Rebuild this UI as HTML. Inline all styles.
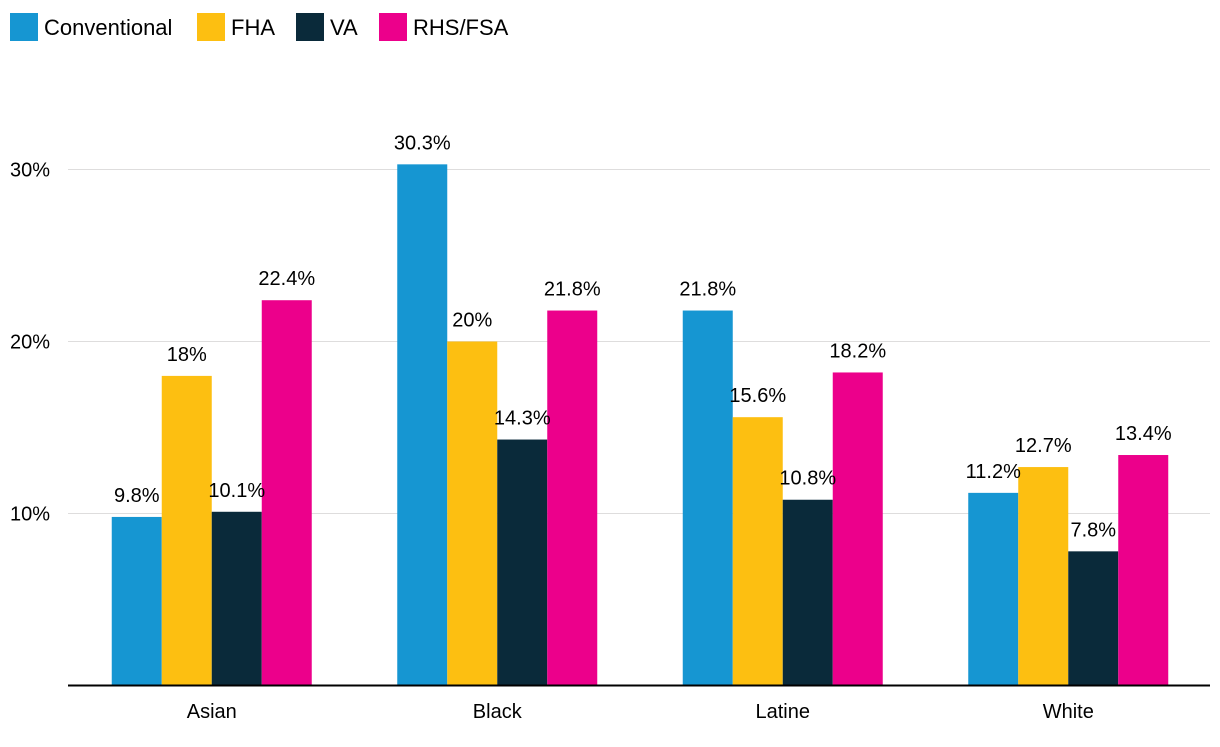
<!DOCTYPE html>
<html><head><meta charset="utf-8">
<style>
body{margin:0;background:#fff;font-family:"Liberation Sans",sans-serif;}
svg text{font-family:"Liberation Sans",sans-serif;}
</style></head>
<body>
<svg width="1220" height="742">
<g id="legend"></g>
<g id="grid"></g>
<g id="bars"></g>
<g id="labels"></g>
<g id="axes"></g>
</svg>
<script>
const categories = ["Asian","Black","Latine","White"];
const seriesNames = ["Conventional","FHA","VA","RHS/FSA"];
const seriesColors = ["#1696d2","#fdbf11","#0a2a3a","#ec008b"];
const conventional = [9.8,30.3,21.8,11.2];
const fha = [18,20,15.6,12.7];
const va = [10.1,14.3,10.8,7.8];
const rhs = [22.4,21.8,18.2,13.4];
const yTicks = [10,20,30];
const yTickLabels = ["10%","20%","30%"];
const series = [conventional,fha,va,rhs];
const ns="http://www.w3.org/2000/svg";
const x0=68,x1=1210,y0=685.5,pxPer=17.2;
const y=v=>y0-v*pxPer;
const groupW=(x1-x0)/categories.length, barW=50;
function mk(t,a,p){const e=document.createElementNS(ns,t);for(const k in a)e.setAttribute(k,a[k]);p.appendChild(e);return e;}
const grid=document.getElementById('grid'),axes=document.getElementById('axes'),bars=document.getElementById('bars'),labels=document.getElementById('labels'),legend=document.getElementById('legend');
yTicks.forEach((t,i)=>{
 const l=mk('line',{x1:x0,x2:x1,y1:y(t),y2:y(t),stroke:'#dedddd','stroke-width':1},grid);
 
 
 const tx=mk('text',{x:10,y:y(t)+7,'font-size':20,fill:'#000'},axes);tx.textContent=yTickLabels[i];
 
 
});
const base=mk('line',{x1:x0,x2:x1,y1:y0,y2:y0,stroke:'#000','stroke-width':2},axes);


categories.forEach((c,ci)=>{
 const cx=x0+groupW*(ci+0.5)+1;
 const tx=mk('text',{x:cx,y:718,'font-size':20,'text-anchor':'middle',fill:'#000'},axes);tx.textContent=c;
 
 
 series.forEach((s,si)=>{
  const bx=cx-2*barW+si*barW,v=s[ci];
  const r=mk('rect',{x:bx,y:y(v),width:barW,height:y0-y(v),fill:seriesColors[si]},bars);
  
  
  const lt=mk('text',{x:bx+barW/2,y:y(v)-15,'font-size':20,'text-anchor':'middle',fill:'#000'},labels);
  lt.textContent=v+'%';
  
  
 });
});
const legendX=[10,197,296,379];
seriesNames.forEach((n,i)=>{
 const lx=legendX[i];
 const sq=mk('rect',{x:lx,y:13,width:28,height:28,fill:seriesColors[i]},legend);
 
 
 const t=mk('text',{x:lx+34,y:35,'font-size':22,fill:'#000'},legend);t.textContent=n;
 
 
});
</script>
</body></html>
